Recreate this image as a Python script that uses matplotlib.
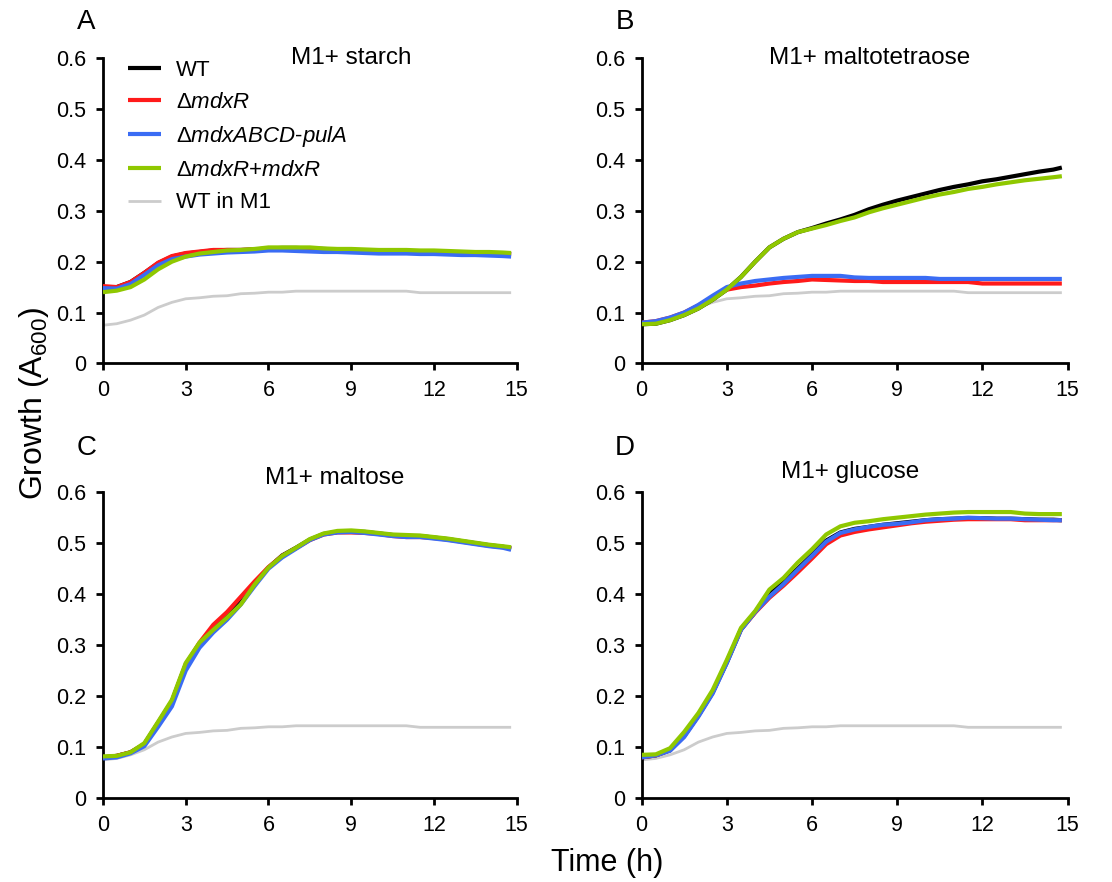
import numpy as np
import matplotlib
matplotlib.use('Agg')
import matplotlib.pyplot as plt

plt.rcParams['font.family'] = ['Liberation Sans', 'DejaVu Sans']
plt.rcParams['mathtext.fontset'] = 'custom'
plt.rcParams['mathtext.rm'] = 'Liberation Sans'
plt.rcParams['mathtext.it'] = 'Liberation Sans:italic'

# sampling times (h)
t = [0, 0.5, 1, 1.5, 2, 2.5, 3, 3.5, 4, 4.5, 5, 5.5, 6, 6.5, 7, 7.5, 8, 8.5, 9, 9.5,
     10, 10.5, 11, 11.5, 12, 12.5, 13, 13.5, 14, 14.5, 14.8]

strains = ['WT', 'ΔmdxR', 'ΔmdxABCD-pulA', 'ΔmdxR+mdxR', 'WT in M1']
labels = ['WT', r'Δ$\mathit{mdxR}$', r'Δ$\mathit{mdxABCD}$-$\mathit{pulA}$',
          r'Δ$\mathit{mdxR}$+$\mathit{mdxR}$', 'WT in M1']
colors = ['black', '#ff1a1a', '#3a6cf4', '#8fc800', '#cccccc']
widths = [3.0, 3.0, 3.0, 3.0, 2.0]

# WT in M1 (no carbon source), same in all panels
gray = [0.075, 0.078, 0.085, 0.095, 0.110, 0.120, 0.127, 0.129, 0.132, 0.133, 0.137, 0.138,
        0.140, 0.140, 0.142, 0.142, 0.142, 0.142, 0.142, 0.142, 0.142, 0.142, 0.142, 0.139,
        0.139, 0.139, 0.139, 0.139, 0.139, 0.139, 0.139]

# A: starch
a_wt = [0.150, 0.150, 0.160, 0.178, 0.197, 0.210, 0.216, 0.219, 0.222, 0.223, 0.223, 0.224,
        0.226, 0.227, 0.227, 0.226, 0.225, 0.224, 0.223, 0.222, 0.221, 0.221, 0.221, 0.220,
        0.220, 0.219, 0.218, 0.218, 0.217, 0.216, 0.215]
a_r = [0.152, 0.150, 0.160, 0.178, 0.198, 0.211, 0.217, 0.220, 0.223, 0.223, 0.223, 0.224,
       0.225, 0.226, 0.226, 0.225, 0.224, 0.223, 0.222, 0.221, 0.221, 0.221, 0.220, 0.220,
       0.219, 0.218, 0.217, 0.217, 0.216, 0.215, 0.214]
a_b = [0.148, 0.147, 0.156, 0.174, 0.193, 0.205, 0.210, 0.214, 0.216, 0.218, 0.219, 0.220,
       0.222, 0.222, 0.221, 0.220, 0.219, 0.219, 0.218, 0.217, 0.216, 0.216, 0.216, 0.215,
       0.215, 0.214, 0.213, 0.213, 0.212, 0.211, 0.210]
a_g = [0.140, 0.143, 0.150, 0.165, 0.185, 0.200, 0.210, 0.216, 0.219, 0.222, 0.223, 0.225,
       0.228, 0.228, 0.228, 0.228, 0.226, 0.225, 0.225, 0.224, 0.223, 0.223, 0.223, 0.222,
       0.222, 0.221, 0.220, 0.219, 0.219, 0.218, 0.217]

# B: maltotetraose
b_wt = [0.077, 0.078, 0.085, 0.095, 0.108, 0.125, 0.145, 0.170, 0.200, 0.228, 0.245, 0.258,
        0.266, 0.275, 0.283, 0.292, 0.303, 0.312, 0.320, 0.327, 0.334, 0.341, 0.347, 0.352,
        0.358, 0.362, 0.367, 0.372, 0.377, 0.381, 0.385]
b_r = [0.080, 0.083, 0.090, 0.100, 0.114, 0.130, 0.145, 0.150, 0.153, 0.157, 0.160, 0.162,
       0.165, 0.164, 0.163, 0.162, 0.162, 0.160, 0.160, 0.160, 0.160, 0.160, 0.160, 0.160,
       0.157, 0.157, 0.157, 0.157, 0.157, 0.157, 0.157]
b_b = [0.080, 0.083, 0.090, 0.100, 0.115, 0.133, 0.150, 0.157, 0.162, 0.165, 0.168, 0.170,
       0.172, 0.172, 0.172, 0.169, 0.168, 0.168, 0.168, 0.168, 0.168, 0.166, 0.166, 0.166,
       0.166, 0.166, 0.166, 0.166, 0.166, 0.166, 0.166]
b_g = [0.077, 0.078, 0.085, 0.095, 0.108, 0.125, 0.145, 0.170, 0.200, 0.228, 0.245, 0.258,
       0.265, 0.272, 0.280, 0.287, 0.297, 0.305, 0.312, 0.319, 0.326, 0.332, 0.337, 0.343,
       0.347, 0.352, 0.356, 0.360, 0.363, 0.366, 0.368]

# C: maltose
c_wt = [0.080, 0.083, 0.090, 0.106, 0.148, 0.190, 0.262, 0.303, 0.330, 0.356, 0.385, 0.420,
        0.452, 0.476, 0.491, 0.507, 0.518, 0.522, 0.523, 0.522, 0.519, 0.516, 0.514, 0.514,
        0.511, 0.508, 0.504, 0.500, 0.496, 0.493, 0.490]
c_r = [0.080, 0.083, 0.090, 0.106, 0.148, 0.190, 0.262, 0.305, 0.340, 0.365, 0.395, 0.425,
       0.453, 0.475, 0.490, 0.506, 0.517, 0.521, 0.521, 0.520, 0.518, 0.514, 0.512, 0.512,
       0.510, 0.507, 0.503, 0.499, 0.495, 0.492, 0.489]
c_b = [0.078, 0.080, 0.088, 0.102, 0.140, 0.180, 0.250, 0.295, 0.325, 0.350, 0.380, 0.416,
       0.450, 0.472, 0.489, 0.506, 0.517, 0.521, 0.522, 0.520, 0.517, 0.514, 0.512, 0.512,
       0.509, 0.506, 0.502, 0.498, 0.494, 0.491, 0.487]
c_g = [0.082, 0.083, 0.090, 0.108, 0.150, 0.193, 0.265, 0.305, 0.330, 0.354, 0.380, 0.419,
       0.452, 0.475, 0.491, 0.508, 0.519, 0.524, 0.525, 0.523, 0.520, 0.517, 0.516, 0.515,
       0.512, 0.509, 0.505, 0.501, 0.497, 0.494, 0.492]

# D: glucose
d_wt = [0.080, 0.084, 0.094, 0.122, 0.162, 0.207, 0.266, 0.331, 0.365, 0.405, 0.425, 0.450,
        0.477, 0.505, 0.521, 0.528, 0.532, 0.536, 0.539, 0.542, 0.545, 0.547, 0.548, 0.549,
        0.549, 0.548, 0.548, 0.547, 0.546, 0.546, 0.545]
d_r = [0.080, 0.084, 0.094, 0.122, 0.162, 0.207, 0.268, 0.331, 0.364, 0.393, 0.417, 0.443,
       0.470, 0.498, 0.515, 0.522, 0.527, 0.531, 0.535, 0.539, 0.542, 0.544, 0.546, 0.547,
       0.547, 0.547, 0.547, 0.545, 0.545, 0.545, 0.545]
d_b = [0.080, 0.084, 0.093, 0.120, 0.160, 0.205, 0.265, 0.330, 0.365, 0.395, 0.420, 0.448,
       0.475, 0.503, 0.520, 0.527, 0.532, 0.536, 0.538, 0.541, 0.545, 0.547, 0.548, 0.550,
       0.549, 0.548, 0.548, 0.547, 0.546, 0.545, 0.545]
d_g = [0.085, 0.086, 0.098, 0.130, 0.167, 0.212, 0.271, 0.334, 0.367, 0.409, 0.432, 0.462,
       0.488, 0.517, 0.533, 0.540, 0.543, 0.547, 0.550, 0.553, 0.556, 0.558, 0.560, 0.561,
       0.561, 0.561, 0.561, 0.558, 0.557, 0.557, 0.557]

panels = [
    ('A', 'M1+ starch', [a_wt, a_r, a_b, a_g, gray], [0.0926, 0.588, 0.372, 0.346], 0.60, 1.00, 1.118),
    ('B', 'M1+ maltotetraose', [b_wt, b_r, b_b, b_g, gray], [0.577, 0.588, 0.383, 0.346], 0.535, 1.00, 1.118),
    ('C', 'M1+ maltose', [c_wt, c_r, c_b, c_g, gray], [0.0926, 0.095, 0.372, 0.347], 0.56, 1.045, 1.144),
    ('D', 'M1+ glucose', [d_wt, d_r, d_b, d_g, gray], [0.577, 0.095, 0.383, 0.347], 0.49, 1.065, 1.144),
]

fig = plt.figure(figsize=(11.12, 8.82), dpi=100)

for letter, title, series, rect, tx, ty, ly in panels:
    ax = fig.add_axes(rect)
    for k in [4, 0, 1, 2, 3]:
        ax.plot(t, series[k], color=colors[k], lw=widths[k], label=labels[k],
                solid_capstyle='butt', zorder=3 if k < 4 else 2)
    ax.set_xlim(0, 15)
    ax.set_ylim(0, 0.6)
    ax.set_xticks([0, 3, 6, 9, 12, 15])
    ax.set_yticks([0, 0.1, 0.2, 0.3, 0.4, 0.5, 0.6])
    ax.set_yticklabels(['0', '0.1', '0.2', '0.3', '0.4', '0.5', '0.6'])
    for s in ['top', 'right']:
        ax.spines[s].set_visible(False)
    for s in ['left', 'bottom']:
        ax.spines[s].set_linewidth(2.0)
    ax.tick_params(direction='out', length=5, width=2, labelsize=15.5, pad=7)
    ax.text(tx, ty, title, transform=ax.transAxes, ha='center', va='center', fontsize=17.5)
    ax.text(-0.04, ly, letter, transform=ax.transAxes, ha='center', va='center', fontsize=20)
    if letter == 'A':
        h, l = ax.get_legend_handles_labels()
        order = [l.index(x) for x in labels]
        ax.legend([h[i] for i in order], [l[i] for i in order], loc='upper left',
                  bbox_to_anchor=(0.013, 1.06), frameon=False, fontsize=16,
                  handlelength=1.45, handletextpad=0.7, labelspacing=0.5)

fig.text(0.031, 0.543, 'Growth (A$_{600}$)', rotation=90, ha='center', va='center', fontsize=23)
fig.text(0.546, 0.022, 'Time (h)', ha='center', va='center', fontsize=22)

plt.savefig('out.png', dpi=100)
plt.close(fig)
